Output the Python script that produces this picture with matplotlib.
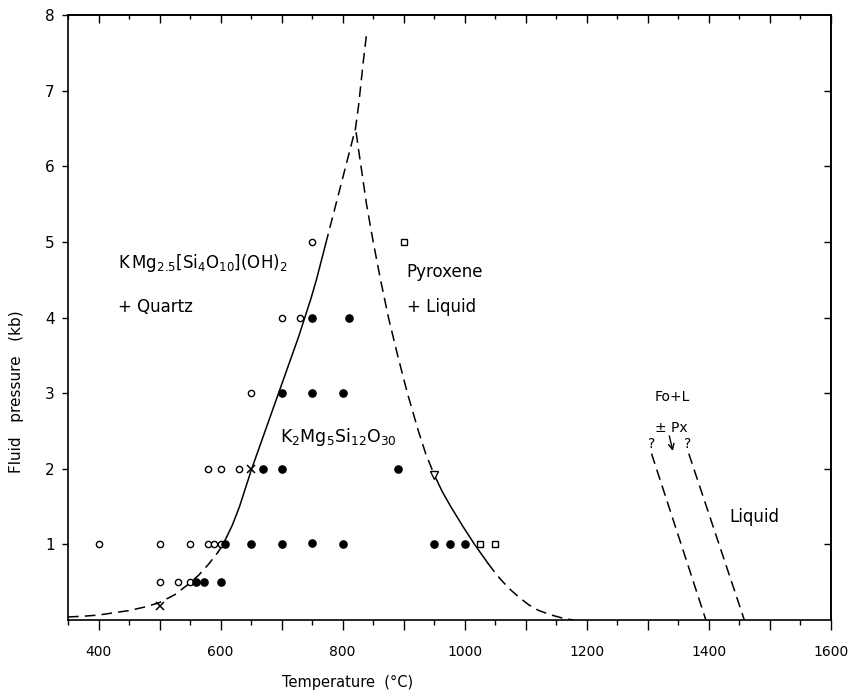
import numpy as np
import matplotlib.pyplot as plt
from matplotlib.ticker import MultipleLocator, FuncFormatter, NullFormatter

plt.rcParams['font.family'] = ['DejaVu Sans']
plt.rcParams['mathtext.fontset'] = 'dejavusans'

# experimental runs (temperature in C, fluid pressure in kb)
open_T = [400, 500, 550, 580, 590, 600, 500, 530, 550, 580, 600, 630, 650, 700, 730, 750]
open_P = [1, 1, 1, 1, 1, 1, 0.5, 0.5, 0.5, 2, 2, 2, 3, 4, 4, 5]
filled_T = [608, 650, 700, 750, 800, 950, 975, 1000, 560, 572, 600, 670, 700, 890, 700, 750, 800, 750, 810]
filled_P = [1, 1, 1, 1.02, 1, 1, 1, 1, 0.5, 0.5, 0.5, 2, 2, 2, 3, 3, 3, 4, 4]
square_T = [900, 1025, 1050]
square_P = [5, 1, 1]
cross_T = [500, 650]
cross_P = [0.18, 2]
tri_T = [950]
tri_P = [1.92]

# phase boundaries
left_lo_T = [350, 375, 400, 425, 450, 475, 500, 525, 550, 565, 580, 596]
left_lo_P = [0.04, 0.05, 0.065, 0.095, 0.125, 0.17, 0.23, 0.335, 0.49, 0.6, 0.735, 0.9]
left_mid_T = [596, 604, 619, 631, 641, 651, 662, 673, 684, 695, 706, 717, 728, 738, 748, 757, 765, 772]
left_mid_P = [0.9, 1.0, 1.25, 1.5, 1.75, 2.0, 2.25, 2.5, 2.75, 3.0, 3.25, 3.5, 3.75, 4.0, 4.25, 4.5, 4.75, 4.97]
left_hi_T = [772, 781, 789, 797, 805, 813, 821, 826, 830, 834, 839]
left_hi_P = [4.97, 5.25, 5.5, 5.75, 6.0, 6.25, 6.5, 6.8, 7.1, 7.4, 7.74]

right_hi_T = [822, 826, 830, 839, 850, 862, 875, 890, 906, 924, 936, 950]
right_hi_P = [6.45, 6.22, 6.0, 5.5, 5.0, 4.5, 4.0, 3.5, 3.0, 2.5, 2.2, 1.92]
right_mid_T = [950, 963, 977, 996, 1016, 1038]
right_mid_P = [1.92, 1.7, 1.5, 1.25, 1.0, 0.75]
right_lo_T = [1038, 1052, 1063, 1075, 1089, 1105, 1120, 1140, 1158, 1178]
right_lo_P = [0.75, 0.6, 0.5, 0.4, 0.3, 0.2, 0.13, 0.07, 0.03, 0.0]

fo_left_T = [1306, 1395]
fo_left_P = [2.2, 0.0]
fo_right_T = [1367, 1458]
fo_right_P = [2.2, 0.0]

fig = plt.figure(figsize=(8.52, 6.94), dpi=100)
ax = fig.add_axes([68 / 852, 74 / 694, 763 / 852, 605 / 694])

dash = (0, (7, 4))
lw = 1.1
ax.plot(left_lo_T, left_lo_P, color='black', lw=lw, linestyle=dash)
ax.plot(left_mid_T, left_mid_P, color='black', lw=lw)
ax.plot(left_hi_T, left_hi_P, color='black', lw=lw, linestyle=dash)
ax.plot(right_hi_T, right_hi_P, color='black', lw=lw, linestyle=dash)
ax.plot(right_mid_T, right_mid_P, color='black', lw=lw)
ax.plot(right_lo_T, right_lo_P, color='black', lw=lw, linestyle=dash)
ax.plot(fo_left_T, fo_left_P, color='black', lw=lw, linestyle=dash)
ax.plot(fo_right_T, fo_right_P, color='black', lw=lw, linestyle=dash)

ax.plot(open_T, open_P, 'o', ms=4.5, mfc='white', mec='black', mew=1.0, ls='none', zorder=3)
ax.plot(filled_T, filled_P, 'o', ms=5.2, mfc='black', mec='black', ls='none', zorder=3)
ax.plot(square_T, square_P, 's', ms=4, mfc='white', mec='black', mew=1.0, ls='none', zorder=3)
ax.plot(cross_T, cross_P, 'x', ms=6, mec='black', mew=1.1, ls='none', zorder=3)
ax.plot(tri_T, tri_P, 'v', ms=6, mfc='white', mec='black', mew=1.0, ls='none', zorder=3)

ax.set_xlim(350, 1600)
ax.set_ylim(0, 8)

# labels of the fields
ax.text(432, 4.656, r'$\mathregular{K\,Mg_{2.5}}\left[\mathregular{Si_4O_{10}}\right]\mathregular{(OH)_2}$',
        fontsize=12, va='baseline')
ax.text(432, 4.074, '+ Quartz', fontsize=12, va='baseline')
ax.text(905, 4.537, 'Pyroxene', fontsize=12, va='baseline')
ax.text(905, 4.074, '+ Liquid', fontsize=12, va='baseline')
ax.text(697, 2.36, r'$\mathregular{K_2Mg_5Si_{12}O_{30}}$', fontsize=12.5, va='baseline')
ax.text(1311, 2.89, 'Fo+L', fontsize=10, va='baseline')
ax.text(1311, 2.49, '± Px', fontsize=10, va='baseline')
ax.text(1306, 2.27, '?', fontsize=10, va='baseline', ha='center')
ax.text(1365, 2.27, '?', fontsize=10, va='baseline', ha='center')
ax.text(1434, 1.30, 'Liquid', fontsize=12, va='baseline')
ax.annotate('', xy=(1342, 2.2), xytext=(1334, 2.47),
            arrowprops=dict(arrowstyle='->', color='black', lw=1.0))

# bottom axis: long ticks every 100, short every 50, labels every 200
ax.xaxis.set_major_locator(MultipleLocator(100))
ax.xaxis.set_minor_locator(MultipleLocator(50))
ax.xaxis.set_major_formatter(FuncFormatter(lambda v, pos: '%d' % v if v % 200 == 0 else ''))
ax.tick_params(axis='x', which='major', direction='out', length=7, width=1, labelsize=10, pad=11)
ax.tick_params(axis='x', which='minor', direction='out', length=3.5, width=1)
ax.set_yticks([1, 2, 3, 4, 5, 6, 7, 8])
ax.tick_params(axis='y', which='major', direction='out', length=4.5, width=1, labelsize=11, pad=5)

top = ax.secondary_xaxis('top')
top.xaxis.set_major_locator(MultipleLocator(100))
top.xaxis.set_minor_locator(MultipleLocator(50))
top.xaxis.set_major_formatter(NullFormatter())
top.tick_params(which='major', direction='in', length=6, width=1)
top.tick_params(which='minor', direction='in', length=3, width=1)

right = ax.secondary_yaxis('right')
right.set_yticks([1, 2, 3, 4, 5, 6, 7])
right.yaxis.set_major_formatter(NullFormatter())
right.tick_params(direction='in', length=5, width=1)

for s in list(ax.spines.values()) + list(top.spines.values()) + list(right.spines.values()):
    s.set_linewidth(1.2)

ax.set_xlabel('Temperature  (°C)', fontsize=10.5)
ax.set_ylabel('Fluid   pressure   (kb)', fontsize=11)
ax.xaxis.set_label_coords(0.367, -0.091)
ax.yaxis.set_label_coords(-0.058, 0.377)

fig.savefig('out.png', dpi=100)
